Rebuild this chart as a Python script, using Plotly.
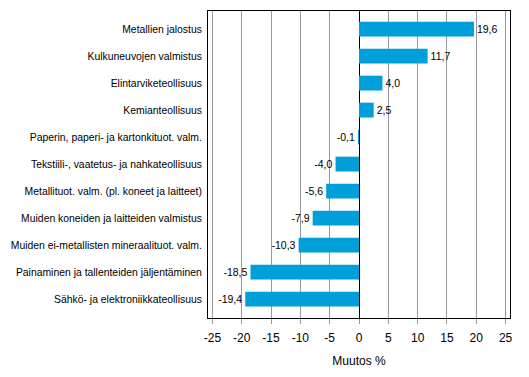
import plotly.graph_objects as go

categories = [
    "Metallien jalostus",
    "Kulkuneuvojen valmistus",
    "Elintarviketeollisuus",
    "Kemianteollisuus",
    "Paperin, paperi- ja kartonkituot. valm.",
    "Tekstiili-, vaatetus- ja nahkateollisuus",
    "Metallituot. valm. (pl. koneet ja laitteet)",
    "Muiden koneiden ja laitteiden valmistus",
    "Muiden ei-metallisten mineraalituot. valm.",
    "Painaminen ja tallenteiden jäljentäminen",
    "Sähkö- ja elektroniikkateollisuus",
]
values = [19.6, 11.7, 4.0, 2.5, -0.1, -4.0, -5.6, -7.9, -10.3, -18.5, -19.4]
tick_vals = [-25, -20, -15, -10, -5, 0, 5, 10, 15, 20, 25]
tick_text = [str(v) for v in tick_vals]

labels = [f"{v:.1f}".replace(".", ",") for v in values]

fig = go.Figure()
fig.add_trace(go.Bar(
    y=list(range(len(categories))),
    x=values,
    orientation="h",
    marker=dict(color="#009FDA", line=dict(width=0)),
    width=0.55,
    text=labels,
    textposition="outside",
    cliponaxis=False,
    textfont=dict(family="Liberation Sans, Arial", size=10.5, color="black"),
))

fig.update_layout(
    width=529, height=377,
    margin=dict(l=208, r=19, t=11, b=59),
    paper_bgcolor="white",
    plot_bgcolor="white",
    showlegend=False,
    font=dict(family="Liberation Sans, Arial", size=10.5, color="black"),
)
fig.update_xaxes(
    automargin=False,
    range=[-25.75, 25.75],
    tickvals=tick_vals,
    ticktext=tick_text,
    showgrid=True, gridcolor="#999999", gridwidth=1,
    zeroline=True, zerolinecolor="black", zerolinewidth=1,
    ticks="outside", ticklen=5, tickcolor="#999999",
    showline=True, linecolor="black", linewidth=1, mirror=True,
    tickfont=dict(size=12), ticklabelstandoff=4,
    title=dict(text="Muutos %", font=dict(size=12), standoff=12),
)
fig.update_yaxes(
    automargin=False,
    tickvals=list(range(len(categories))),
    ticktext=categories,
    range=[10.7, -0.67],
    showgrid=False, zeroline=False,
    showline=True, linecolor="black", linewidth=1, mirror=True,
    ticks="", ticklabelstandoff=3,
    tickfont=dict(size=10.4),
)

fig.write_html(
    "out.html",
    config={"displayModeBar": False},
    post_script="document.body.style.margin='0';",
)
